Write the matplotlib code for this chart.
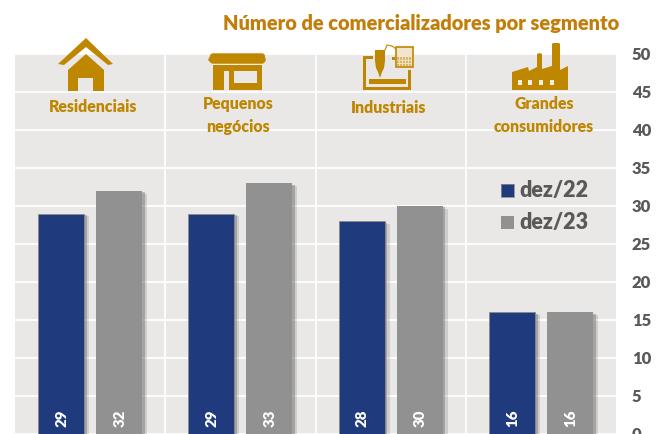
import matplotlib
matplotlib.use("Agg")
import matplotlib.pyplot as plt
import matplotlib.patheffects as pe
from matplotlib.patches import Polygon, Rectangle, FancyBboxPatch
import numpy as np

segments = ["Residenciais", "Pequenos\nnegócios", "Industriais", "Grandes\nconsumidores"]
dez22 = [29, 29, 28, 16]
dez23 = [32, 33, 30, 16]
yticks = [0, 5, 10, 15, 20, 25, 30, 35, 40, 45, 50]
title = "Número de comercializadores por segmento"

GOLD = "#BF8600"
TITLE = "#C27E0A"
BG = "#E9E8E6"
NAVY = "#1F3A7D"
GREY = "#919191"
TXT = "#595959"
FONT = "Lato"
plt.rcParams["font.family"] = [FONT, "DejaVu Sans"]
plt.rcParams["font.weight"] = "heavy"

W, H = 659, 434
fig = plt.figure(figsize=(W / 100, H / 100), dpi=100, facecolor="white")
ax = fig.add_axes([15 / W, 0, (616 - 15) / W, (434 - 54) / H], facecolor=BG)
ax.set_xlim(0, 4)
ax.set_ylim(0, 50)
ax.grid(True, color="white", lw=1.3, zorder=1)
ax.set_axisbelow(True)
ax.set_xticks([1, 2, 3])
ax.set_xticklabels([])
ax.set_yticks(yticks)
ax.yaxis.tick_right()
ax.tick_params(length=0, labelsize=12, labelcolor=TXT, pad=11.5)
for lab in ax.get_yticklabels():
    lab.set_fontweight("heavy")
    lab.set_clip_on(False)
for s in ax.spines.values():
    s.set_visible(False)

x = np.arange(4) + 0.5
bw = 0.307
off = 0.193
shadow = [pe.SimplePatchShadow(offset=(3.5, -2), alpha=0.18, shadow_rgbFace="#555555"),
          pe.SimplePatchShadow(offset=(2, -1), alpha=0.35, shadow_rgbFace="#555555"), pe.Normal()]
b1 = ax.bar(x - off, dez22, bw, color=NAVY, edgecolor="#8A8A8A", lw=0.6, zorder=3)
b2 = ax.bar(x + off, dez23, bw, color=GREY, zorder=3)
for b in list(b1) + list(b2):
    b.set_path_effects(shadow)
for xi, a, c in zip(x, dez22, dez23):
    ax.text(xi - off + 0.004, 2.1, str(a), rotation=90, color="white", fontsize=10.8, fontweight="heavy",
            ha="center", va="center", zorder=5)
    ax.text(xi + off + 0.004, 2.1, str(c), rotation=90, color="white", fontsize=10.8, fontweight="heavy",
            ha="center", va="center", zorder=5)

# Overlay in pixel space for title, category captions, icons and legend
ov = fig.add_axes([0, 0, 1, 1], facecolor="none")
ov.set_xlim(0, W)
ov.set_ylim(H, 0)
ov.axis("off")

ov.text(619, 23.5, title, color=TITLE, fontsize=14.4, fontweight="heavy", ha="right", va="center")

cap_x = [93, 238, 389, 544]
cap_y = [107, 115.5, 108, 115.5]
for cx, cy, s in zip(cap_x, cap_y, segments):
    ov.text(cx, cy, s, color=GOLD, fontsize=11.4, fontweight="heavy", ha="center", va="center",
            linespacing=1.52)


def poly(pts, c=GOLD, z=6):
    ov.add_patch(Polygon(pts, closed=True, fc=c, ec="none", zorder=z))


def rect(x0, y0, x1, y1, c=GOLD, z=6):
    ov.add_patch(Rectangle((x0, y0), x1 - x0, y1 - y0, fc=c, ec="none", zorder=z))


# House
poly([(86, 38), (113, 64), (108, 65), (86, 47), (64, 65), (58, 64)])
poly([(86, 54), (104, 70), (104, 91), (93, 91), (93, 78), (78, 78), (78, 91), (68, 91), (68, 70)])

# Store
ov.add_patch(FancyBboxPatch((211, 54), 53, 9, boxstyle="round,pad=0,rounding_size=2", fc=GOLD, ec=GOLD, lw=1, zorder=6))
poly([(208, 60), (211, 54), (211, 63)])
poly([(266, 60), (264, 54), (264, 63)])
rect(213, 64, 262, 90)
rect(213, 63.5, 262, 65, "#F3EFE3", 7)
rect(224, 71, 229, 90, BG, 7)
rect(234, 71, 257, 83, BG, 7)

# Industrial machine
rect(363, 56, 366, 90)
rect(363, 87, 411, 90)
rect(408, 70, 411, 90)
rect(363, 56, 373, 59)
rect(369, 79, 406, 84)
rect(375, 50, 385, 61)
poly([(375, 61), (385, 61), (384, 68), (382, 72), (378, 72), (376, 68)])
poly([(378, 72), (382, 72), (380, 78)])
rect(392, 57, 395, 60)
ov.plot([385, 387, 392, 396], [50, 45, 46, 49], color=GOLD, lw=0.8, zorder=6)
rect(396, 47, 413, 67, "#F1E6CC")
rect(397, 57, 412, 66, "#D9B766", 7)
for gx in range(399, 412, 3):
    ov.plot([gx, gx], [57, 66], color="#F1E6CC", lw=0.6, zorder=8)
for gy in (60, 63):
    ov.plot([397, 412], [gy, gy], color="#F1E6CC", lw=0.6, zorder=8)
ov.add_patch(Rectangle((396, 47), 17, 20, fc="none", ec=GOLD, lw=1.2, zorder=9))

# Factory
poly([(512, 90), (512, 72), (528, 67), (529, 71), (537, 67), (537, 54), (539.5, 53), (542, 54), (542, 69),
      (552, 66), (552, 44), (553, 43), (559, 43), (560, 44), (560, 70), (568, 66), (568, 90)])
for wx in (518, 528, 539, 550):
    rect(wx, 80, wx + 3.5, 85, "#F3EFE3", 7)

# Legend
rect(501, 184, 514, 197, NAVY)
ov.add_patch(Rectangle((501, 184), 13, 13, fc="none", ec="#8A8A8A", lw=0.6, zorder=7))
rect(501, 216, 514, 229, GREY)
ov.text(519, 190.5, "dez/22", color=TXT, fontsize=15.5, fontweight="heavy", ha="left", va="center", zorder=7)
ov.text(519, 222.5, "dez/23", color=TXT, fontsize=15.5, fontweight="heavy", ha="left", va="center", zorder=7)

fig.savefig("out.png", dpi=100)
